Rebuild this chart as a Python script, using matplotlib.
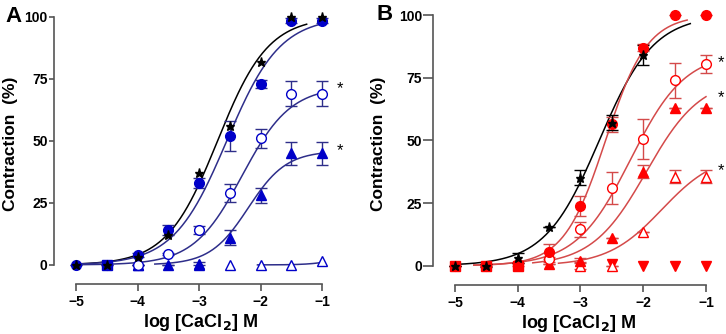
import numpy as np
import matplotlib.pyplot as plt

plt.rcParams['font.family'] = ['Liberation Sans', 'DejaVu Sans']
plt.rcParams['font.weight'] = 'bold'

logx = np.array([-5, -4.5, -4, -3.5, -3, -2.5, -2, -1.5, -1])

# panel A (blue)
a_ctrl = [0, 0, 3, 12, 37, 56, 82, 100, 100]
a_fc = [0, 0, 4, 14, 33, 52, 73, 98.5, 98.5]
a_fc_err = [0, 0, 1, 2, 2, 6, 1.5, 1, 1]
a_oc_x = [-4, -3.5, -3, -2.5, -2, -1.5, -1]
a_oc = [0, 4.5, 14, 29, 51, 69, 69]
a_oc_err = [0, 0.5, 1.5, 3.5, 4, 5, 5]
a_ft_x = [-4, -3.5, -3, -2.5, -2, -1.5, -1]
a_ft = [0, 0, 0.5, 11, 28, 45, 45]
a_ft_err = [0, 0, 0.5, 3, 3, 4.5, 4.5]
a_ot_x = [-4, -3, -2.5, -2, -1.5, -1]
a_ot = [0, 0, 0, 0, 0, 1.5]
a_sq_x = [-4.5]
a_sq = [0]

# Hill fits: top, logEC50, slope, x start, x end
a_fits = [
    ('k', 100, -2.7, 1.05, -5, -1.25),
    ('fc', 100, -2.55, 1.0, -5, -1.0),
    ('oc', 72, -2.3, 1.1, -5, -1.0),
    ('ft', 46, -2.2, 1.4, -3.72, -1.0),
    ('ot', 5, -0.7, 2.0, -2.05, -1.0),
]
a_sig_y = [71, 46]

# panel B (red)
b_ctrl = [0, 0, 3, 15.5, 35, 57, 84]
b_ctrl_err = [0, 0.5, 2, 0, 3, 3, 4]
b_ctrl_x = logx[:7]
b_fc = [0, 0, 0.5, 5.5, 24, 56.5, 87, 100, 100]
b_fc_err = [0, 0, 0.5, 3, 4, 3, 1.5, 0, 0]
b_oc_x = [-3.5, -3, -2.5, -2, -1.5, -1]
b_oc = [2.5, 14.5, 31, 50.5, 74, 80.5]
b_oc_err = [1, 3, 6.5, 8, 7, 3.5]
b_ft_x = [-3.5, -3, -2.5, -2, -1.5, -1]
b_ft = [0.5, 2, 11, 37.5, 63, 63]
b_ft_err = [0, 1, 0, 2.5, 0, 0]
b_ot_x = [-3, -2.5, -2, -1.5, -1]
b_ot = [0, 0, 13.5, 35.5, 35.5]
b_ot_err = [1.5, 0, 0, 2.5, 2.5]
b_dt_x = [-2.5, -2, -1.5, -1]
b_dt = [0.5, 0, 0, 0]
b_sq_x = [-5, -4.5, -4]
b_sq = [0, 0, 0]

b_fits = [
    ('k', 100, -2.7, 1.0, -5, -1.25),
    ('fc', 100, -2.6, 1.3, -4.7, -1.3),
    ('oc', 85, -2.2, 1.0, -4.7, -1.0),
    ('ft', 75, -1.95, 1.0, -3.76, -1.0),
    ('ot', 45, -1.7, 1.0, -3.35, -1.0),
]
b_sig_y = [81, 67, 38]


def hill(x, top, ec50, h):
    return top / (1 + 10 ** ((ec50 - x) * h))


def setup(ax, xlo, xhi, ticklen, ylpad):
    ax.set_xlim(xlo, xhi)
    ax.set_ylim(-7.7, 105)
    for s in ['top', 'right']:
        ax.spines[s].set_visible(False)
    ax.spines['left'].set_bounds(0, 100)
    ax.spines['bottom'].set_bounds(-5, -1)
    for s in ['left', 'bottom']:
        ax.spines[s].set_color('#555555')
        ax.spines[s].set_linewidth(1.2)
    ax.set_xticks([-5, -4, -3, -2, -1])
    ax.set_yticks([0, 25, 50, 75, 100])
    ax.tick_params(colors='#555555', labelcolor='black', labelsize=10, width=1.2)
    ax.tick_params(axis='y', length=ticklen, pad=1)
    ax.tick_params(axis='x', length=5, pad=3)
    for lab in ax.get_xticklabels() + ax.get_yticklabels():
        lab.set_fontweight('bold')
    ax.set_xlabel('log [CaCl$_\\mathbf{2}$] M', fontsize=13, fontweight='bold', labelpad=2)
    ax.set_ylabel('Contraction  (%)', fontsize=12.5, fontweight='bold', labelpad=ylpad)
    ax.patch.set_visible(False)


fig = plt.figure(figsize=(7.26, 3.34), dpi=100)
W, H = 726.0, 334.0

# ---- panel A ----
blue = '#0000c8'
bline = '#2e2e8a'
axA = fig.add_axes([54 / W, 50 / H, 292.6 / W, 279.4 / H])
setup(axA, -5.36, -0.6, 3.5, 4.5)
kw = dict(clip_on=False, zorder=3, capsize=4, elinewidth=1, capthick=1, linestyle='none')
for key, top, ec, h, x0, x1 in a_fits:
    xs = np.linspace(x0, x1, 200)
    axA.plot(xs, hill(xs, top, ec, h), color='black' if key == 'k' else bline, lw=1.1, zorder=2)
axA.errorbar(a_ot_x, a_ot, fmt='^', mfc='white', mec=blue, ms=6.5, ecolor=bline, **kw)
axA.errorbar(a_ft_x, a_ft, yerr=a_ft_err, fmt='^', color=blue, ms=6.5, ecolor=bline, **kw)
axA.errorbar(a_oc_x, a_oc, yerr=a_oc_err, fmt='o', mfc='white', mec=blue, ms=7, ecolor=bline, **kw)
axA.errorbar(logx, a_fc, yerr=a_fc_err, fmt='o', color=blue, ms=7, ecolor=bline, **kw)
axA.errorbar(a_sq_x, a_sq, fmt='s', color=blue, ms=6.5, **kw)
axA.plot(logx, a_ctrl, '*', color='black', ms=6.5, clip_on=False, zorder=4, linestyle='none')
for y in a_sig_y:
    axA.text(-0.71, y, '*', ha='center', va='center', fontsize=12, fontweight='normal')
fig.text(5 / W, 1 - 16 / H, 'A', fontsize=16, fontweight='bold', va='center')

# ---- panel B ----
red = '#ff0000'
rline = '#d44a4a'
axB = fig.add_axes([433 / W, 49 / H, 291.8 / W, 282.5 / H])
setup(axB, -5.35, -0.7, 7, 9)
for key, top, ec, h, x0, x1 in b_fits:
    xs = np.linspace(x0, x1, 200)
    axB.plot(xs, hill(xs, top, ec, h), color='black' if key == 'k' else rline, lw=1.1, zorder=2)
axB.errorbar(b_dt_x, b_dt, fmt='v', color=red, ms=6.5, **kw)
axB.errorbar(b_ot_x, b_ot, yerr=b_ot_err, fmt='^', mfc='white', mec=red, ms=6.5, ecolor=rline, **kw)
axB.errorbar(b_ft_x, b_ft, yerr=b_ft_err, fmt='^', color=red, ms=6.5, ecolor=rline, **kw)
axB.errorbar(b_oc_x, b_oc, yerr=b_oc_err, fmt='o', mfc='white', mec=red, ms=7, ecolor=rline, **kw)
axB.errorbar(logx, b_fc, yerr=b_fc_err, fmt='o', color=red, ms=7, ecolor=rline, **kw)
axB.errorbar(b_sq_x, b_sq, fmt='s', color=red, ms=6.5, **kw)
axB.errorbar(b_ctrl_x, b_ctrl, yerr=b_ctrl_err, fmt='*', color='black', ms=6.5, ecolor='black', **kw)
for y in b_sig_y:
    axB.text(-0.76, y, '*', ha='center', va='center', fontsize=12, fontweight='normal', clip_on=False)
fig.text(376 / W, 1 - 14 / H, 'B', fontsize=16, fontweight='bold', va='center')

fig.savefig('out.png', dpi=100)
